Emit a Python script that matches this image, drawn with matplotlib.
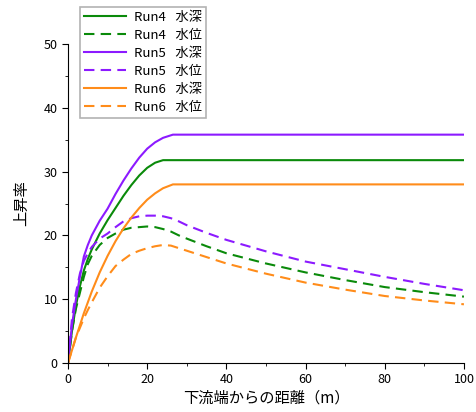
import matplotlib.pyplot as plt
from matplotlib.ticker import MultipleLocator

plt.rcParams['font.family'] = ['Noto Sans CJK JP', 'DejaVu Sans']

# 距離 (m)
x_d = [0, 1, 2, 3, 4, 5, 6, 8, 10, 12, 14, 16, 18, 20, 22, 24, 26.5, 30, 40, 50, 60, 70, 80, 90, 100]
run4_depth = [0, 5, 9, 12, 14.5, 16.3, 17.8, 20.3, 22.4, 24.3, 26.2, 27.9, 29.4, 30.6, 31.4, 31.8, 31.8,
              31.8, 31.8, 31.8, 31.8, 31.8, 31.8, 31.8, 31.8]
run5_depth = [0, 6, 10, 13.5, 16.7, 18.5, 20, 22.3, 24.2, 26.5, 28.6, 30.5, 32.2, 33.6, 34.6, 35.3, 35.8,
              35.8, 35.8, 35.8, 35.8, 35.8, 35.8, 35.8, 35.8]
run6_depth = [0, 2, 4, 5.9, 7.8, 9.5, 11.2, 14.2, 16.8, 19.1, 21.1, 22.8, 24.3, 25.6, 26.6, 27.4, 28,
              28, 28, 28, 28, 28, 28, 28, 28]

x_w = [0, 1, 2, 3, 4, 5, 6, 8, 10, 12, 14, 16, 18, 20, 22, 24, 26, 28, 30, 35, 40, 50, 60, 70, 80, 90, 100]
run4_level = [0, 5, 8.5, 11, 13.5, 15.5, 16.8, 18.5, 19.6, 20.3, 20.9, 21.2, 21.3, 21.4, 21.3, 21, 20.6,
              20, 19.5, 18.3, 17.2, 15.6, 14.2, 13, 11.9, 11.1, 10.4]
run5_level = [0, 7, 11, 14, 16, 17.2, 18.2, 19.5, 20.3, 21.3, 22.2, 22.7, 23, 23.1, 23.1, 23, 22.7,
              22.2, 21.6, 20.4, 19.3, 17.5, 15.9, 14.7, 13.5, 12.4, 11.4]
run6_level = [0, 2, 4, 5.5, 7, 8.3, 9.5, 11.8, 13.6, 15.2, 16.2, 17.1, 17.6, 18, 18.3, 18.5, 18.4,
              18, 17.6, 16.6, 15.6, 14, 12.6, 11.5, 10.5, 9.8, 9.2]

green = '#0a8a0a'
purple = '#8c1aff'
orange = '#ff8c1a'

fig = plt.figure(figsize=(4.77, 4.12), dpi=100)
ax = fig.add_axes([0.1426, 0.119, 0.830, 0.774])

sep = ' \u2002'
ax.plot(x_d, run4_depth, color=green, lw=1.5, label='Run4' + sep + '水深')
ax.plot(x_w, run4_level, color=green, lw=1.5, dashes=(5, 3), label='Run4' + sep + '水位')
ax.plot(x_d, run5_depth, color=purple, lw=1.5, label='Run5' + sep + '水深')
ax.plot(x_w, run5_level, color=purple, lw=1.5, dashes=(5, 3), label='Run5' + sep + '水位')
ax.plot(x_d, run6_depth, color=orange, lw=1.5, label='Run6' + sep + '水深')
ax.plot(x_w, run6_level, color=orange, lw=1.5, dashes=(5, 3), label='Run6' + sep + '水位')

ax.set_xlim(0, 100)
ax.set_ylim(0, 50)
ax.xaxis.set_major_locator(MultipleLocator(20))
ax.xaxis.set_minor_locator(MultipleLocator(10))
ax.yaxis.set_major_locator(MultipleLocator(10))
ax.yaxis.set_minor_locator(MultipleLocator(5))
ax.spines['top'].set_visible(False)
ax.spines['right'].set_visible(False)
ax.tick_params(which='major', direction='out', length=4, labelsize=9)
ax.tick_params(which='minor', direction='out', length=2.5)

ax.set_xlabel('下流端からの距離（m）', fontsize=11, labelpad=2)
ax.set_ylabel('上昇率', fontsize=11, labelpad=10)

leg = fig.legend(loc='upper left', bbox_to_anchor=(0.167, 0.983), fontsize=9.5,
                 frameon=True, fancybox=False, handlelength=3.2, borderpad=0.3,
                 labelspacing=0.38, handletextpad=0.6, borderaxespad=0)
leg.get_frame().set_edgecolor('#a0a0a0')
leg.get_frame().set_linewidth(1.2)

fig.savefig('out.png', dpi=100)
